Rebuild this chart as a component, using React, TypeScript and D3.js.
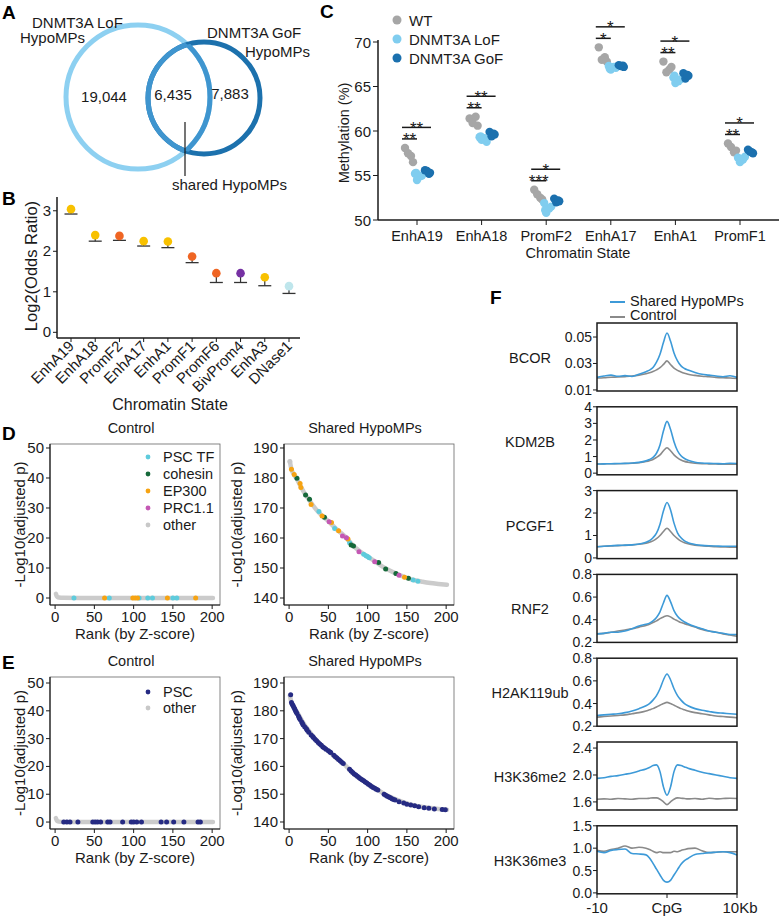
import React from "react";
import * as d3 from "d3";

const FONT = "'Liberation Sans', Arial, Helvetica, sans-serif";
const INK = "#1a1a1a";

// ---------- A: Venn of hypomethylated positions
const vennSetLoF = ["DNMT3A LoF", "HypoMPs"];
const vennSetGoF = ["DNMT3A GoF", "HypoMPs"];
const vennCounts = ["19,044", "6,435", "7,883"]; // LoF only, shared, GoF only
const vennShared = "shared HypoMPs";

// ---------- B: enrichment by chromatin state
const bStates = ["EnhA19", "EnhA18", "PromF2", "EnhA17", "EnhA1", "PromF1", "PromF6", "BivProm4", "EnhA3", "DNase1"];
const bLog2OR = [3.04, 2.4, 2.38, 2.25, 2.24, 1.87, 1.46, 1.46, 1.36, 1.14];
const bLowerCI = [2.92, 2.25, 2.27, 2.13, 2.09, 1.72, 1.23, 1.23, 1.15, 0.96];
const bGroup = ["EnhA", "EnhA", "PromF", "EnhA", "EnhA", "PromF", "PromF", "BivProm", "EnhA", "DNase"];
const bGroupColor: Record<string, string> = { EnhA: "#f8c100", PromF: "#ef6523", BivProm: "#7631a3", DNase: "#bfe6ec" };
const bYTicks = [0, 1, 2, 3];

// ---------- C: methylation per sample
const cStates = ["EnhA19", "EnhA18", "PromF2", "EnhA17", "EnhA1", "PromF1"];
const cWT = [
  [58.1, 57.2, 57.5, 56.5],
  [61.4, 61.6, 60.9, 60.6],
  [53.4, 52.5, 52.9, 52.3],
  [69.4, 68.3, 68.0, 67.8],
  [67.8, 66.9, 66.6, 67.2],
  [58.6, 57.6, 58.2, 57.8],
];
const cLoF = [
  [55.2, 54.9, 54.5, 55.0, 55.3],
  [59.3, 59.2, 59.0, 58.8, 59.4],
  [51.9, 51.3, 50.8, 51.5, 51.1],
  [67.3, 67.2, 66.9, 67.1, 67.0],
  [66.0, 65.6, 65.4, 65.8, 66.2],
  [57.0, 56.8, 56.5, 57.1, 56.9],
];
const cGoF = [
  [55.6, 55.3, 55.5, 55.2],
  [59.9, 59.6, 59.4, 59.7],
  [52.4, 52.1, 52.0, 52.2],
  [67.4, 67.2, 67.3, 67.35],
  [66.5, 66.2, 65.9, 66.3],
  [57.9, 57.5, 57.7, 57.6],
];
const cSigLoF = ["**", "**", "***", "*", "**", "**"];
const cSigGoF = ["**", "**", "*", "*", "*", "*"];
const cYTicks = [50, 55, 60, 65, 70];
const cGroups = ["WT", "DNMT3A LoF", "DNMT3A GoF"];
const cColors = ["#a6a6a6", "#80cdef", "#1b70ae"];

// ---------- D / E: motif enrichment rank plots
const rankTicks = [0, 50, 100, 150, 200];
const dClasses = ["PSC TF", "cohesin", "EP300", "PRC1.1", "other"];
const dColors = ["#5ecbdc", "#16693a", "#f6a312", "#c458b4", "#c8c8c8"];
const eClasses = ["PSC", "other"];
const eColors = ["#262b83", "#c8c8c8"];

const controlOther = [[1, 1.4], [2, 0.7], [3, 0.35], [5, 0.15], [10, 0.05], [50, 0.02], [100, 0.01], [150, 0], [201, 0]];
const sharedOther = [
  [1, 185.5], [3, 182.9], [6, 181.2], [10, 179.6], [14, 177.6], [20, 174.8], [25, 172.9], [30, 171.0],
  [40, 167.9], [50, 165.6], [60, 163.0], [70, 160.8], [80, 157.9], [90, 155.6], [100, 153.8], [110, 152.1],
  [120, 150.3], [130, 148.9], [140, 147.7], [150, 146.7], [160, 145.9], [170, 145.4], [180, 145.0], [190, 144.7], [201, 144.4],
];

const dControlPscTf = [[24, 0], [69, 0], [107, 0], [118, 0], [124, 0], [150, 0], [155, 0]];
const dControlEp300 = [[63, 0], [99, 0], [102, 0], [105, 0], [143, 0], [179, 0]];

const dSharedPscTf = [[38, 168.8], [58, 163.2], [77, 158.4], [95, 154.6], [98, 154.1], [100, 153.8], [102, 153.4], [158, 146.0], [164, 145.6]];
const dSharedCohesin = [[10, 179.9], [21, 174.3], [26, 172.9], [45, 166.9], [79, 157.7], [82, 157.3], [114, 151.8], [123, 149.7], [136, 148.2], [152, 146.6]];
const dSharedEp300 = [[3, 182.9], [6.5, 181.2], [14, 178.2], [15, 176.8], [28, 171.2], [42, 167.3], [54, 165.2], [63, 162.4], [75, 159.7], [147, 146.9]];
const dSharedPrc11 = [[51, 165.4], [68, 160.7], [73, 160.1], [89, 155.4], [109, 152.1], [140, 147.6]];

const eControlPsc = [[11, 0], [15, 0], [19, 0], [29, 0], [48, 0], [51, 0], [54, 0], [58, 0], [67, 0], [70, 0], [86, 0], [97, 0], [100, 0], [104, 0], [110, 0], [135, 0], [142, 0], [151, 0], [164, 0], [182, 0], [185, 0]];
const eSharedPsc = [
  [2, 185.8], [3, 183.0], [4, 182.4], [5, 181.9], [6, 181.3], [7, 180.7], [8, 180.1], [9, 179.6], [10, 179.0],
  [12, 178.0], [13, 177.4], [14, 176.9], [16, 176.0], [17, 175.4], [18, 174.9], [20, 174.2], [22, 173.5], [23, 173.0],
  [25, 172.3], [28, 171.3], [30, 170.8], [31, 170.4], [33, 169.8], [35, 169.2], [37, 168.6], [39, 168.1], [41, 167.6],
  [43, 167.0], [45, 166.6], [47, 166.2], [50, 165.6], [52, 165.2], [53, 165.0], [57, 164.0], [59, 163.5], [61, 163.0],
  [63, 162.5], [65, 162.0], [67, 161.5], [69, 161.0], [77, 159.0], [79, 158.3], [81, 157.8], [83, 157.3], [85, 156.9],
  [87, 156.5], [89, 156.0], [91, 155.6], [93, 155.2], [95, 154.8], [97, 154.4], [99, 154.0], [101, 153.6], [103, 153.2],
  [105, 152.8], [107, 152.4], [109, 152.1], [111, 151.8], [113, 151.5], [121, 150.0], [123, 149.6], [125, 149.3],
  [127, 149.0], [129, 148.7], [131, 148.4], [133, 148.1], [135, 147.9], [140, 147.3], [146, 146.8], [150, 146.4],
  [155, 146.1], [160, 145.8], [165, 145.5], [172, 145.1], [178, 144.9], [185, 144.7], [195, 144.5], [199, 144.4],
];

// ---------- F: profiles around CpG
const fPos = [-10, -9, -8, -7, -6, -5, -4, -3, -2.5, -2, -1.5, -1, -0.5, 0, 0.5, 1, 1.5, 2, 2.5, 3, 4, 5, 6, 7, 8, 9, 10];
const fTracks = ["BCOR", "KDM2B", "PCGF1", "RNF2", "H2AK119ub", "H3K36me2", "H3K36me3"];
const fShared = [
  [0.0195, 0.0205, 0.0212, 0.0203, 0.0208, 0.0202, 0.0218, 0.0238, 0.025, 0.027, 0.031, 0.037, 0.046, 0.053, 0.047, 0.038, 0.032, 0.0282, 0.0262, 0.025, 0.0232, 0.0218, 0.0212, 0.0205, 0.02, 0.0207, 0.0195],
  [0.55, 0.56, 0.57, 0.58, 0.59, 0.61, 0.65, 0.74, 0.82, 0.95, 1.2, 1.7, 2.55, 3.12, 2.65, 1.9, 1.35, 1.05, 0.88, 0.78, 0.66, 0.61, 0.59, 0.58, 0.57, 0.6, 0.58],
  [0.5, 0.52, 0.54, 0.56, 0.57, 0.58, 0.62, 0.7, 0.77, 0.9, 1.1, 1.5, 2.1, 2.47, 2.15, 1.55, 1.12, 0.9, 0.76, 0.68, 0.6, 0.56, 0.54, 0.53, 0.52, 0.52, 0.52],
  [0.275, 0.28, 0.29, 0.29, 0.3, 0.32, 0.345, 0.36, 0.37, 0.39, 0.42, 0.47, 0.55, 0.615, 0.56, 0.48, 0.43, 0.4, 0.38, 0.365, 0.34, 0.32, 0.3, 0.29, 0.28, 0.27, 0.27],
  [0.295, 0.3, 0.305, 0.31, 0.32, 0.335, 0.355, 0.38, 0.4, 0.43, 0.47, 0.53, 0.61, 0.66, 0.61, 0.53, 0.47, 0.43, 0.4, 0.38, 0.355, 0.34, 0.33, 0.32, 0.315, 0.31, 0.305],
  [1.95, 1.96, 1.98, 1.99, 2.01, 2.03, 2.06, 2.09, 2.11, 2.14, 2.15, 2.05, 1.82, 1.7, 1.82, 2.05, 2.15, 2.14, 2.12, 2.1, 2.07, 2.04, 2.02, 2.0, 1.98, 1.96, 1.95],
  [0.93, 0.9, 0.95, 0.97, 0.98, 0.88, 0.87, 0.85, 0.78, 0.66, 0.53, 0.4, 0.28, 0.24, 0.28, 0.4, 0.52, 0.64, 0.72, 0.77, 0.86, 0.88, 0.9, 0.91, 0.92, 0.9, 0.85],
];
const fControl = [
  [0.019, 0.0192, 0.0196, 0.0198, 0.0201, 0.0205, 0.0212, 0.0222, 0.023, 0.024, 0.0252, 0.0268, 0.0293, 0.032, 0.0292, 0.0265, 0.0248, 0.0236, 0.0226, 0.0218, 0.021, 0.0204, 0.02, 0.0195, 0.0192, 0.019, 0.0186],
  [0.55, 0.56, 0.57, 0.57, 0.58, 0.6, 0.63, 0.7, 0.75, 0.82, 0.95, 1.1, 1.35, 1.53, 1.35, 1.1, 0.92, 0.79, 0.71, 0.66, 0.6, 0.57, 0.56, 0.55, 0.54, 0.54, 0.54],
  [0.5, 0.52, 0.53, 0.55, 0.56, 0.58, 0.61, 0.66, 0.7, 0.76, 0.86, 1.0, 1.18, 1.32, 1.18, 1.0, 0.86, 0.75, 0.68, 0.63, 0.57, 0.54, 0.52, 0.5, 0.49, 0.48, 0.48],
  [0.275, 0.28, 0.29, 0.3, 0.31, 0.32, 0.335, 0.35, 0.36, 0.375, 0.39, 0.41, 0.425, 0.435, 0.425, 0.405, 0.39, 0.375, 0.365, 0.355, 0.335, 0.315, 0.3, 0.29, 0.275, 0.265, 0.255],
  [0.28, 0.285, 0.29, 0.295, 0.3, 0.31, 0.32, 0.335, 0.345, 0.355, 0.37, 0.385, 0.4, 0.41, 0.4, 0.385, 0.37, 0.355, 0.345, 0.335, 0.32, 0.31, 0.3, 0.29, 0.285, 0.28, 0.275],
  [1.64, 1.645, 1.64, 1.65, 1.645, 1.64, 1.65, 1.65, 1.655, 1.66, 1.66, 1.64, 1.6, 1.56, 1.6, 1.64, 1.66, 1.655, 1.65, 1.645, 1.65, 1.64, 1.655, 1.645, 1.65, 1.655, 1.65],
  [0.95, 0.93, 0.97, 1.0, 1.05, 1.0, 1.02, 1.0, 0.97, 0.93, 0.9, 0.92, 0.9, 0.9, 0.9, 0.93, 0.92, 0.95, 0.97, 0.99, 1.0, 0.94, 0.9, 0.91, 0.92, 0.92, 0.92],
];
const fDomains = [[0.0092, 0.0606], [-0.1, 4.0], [-0.03, 3.0], [0.2, 0.8], [0.2, 0.8], [1.48, 2.49], [-0.02, 1.5]];
const fTicks = [[0.01, 0.03, 0.05], [0, 1, 2, 3, 4], [0, 1, 2, 3], [0.2, 0.4, 0.6, 0.8], [0.2, 0.4, 0.6, 0.8], [1.6, 2.0, 2.4], [0, 0.5, 1.0, 1.5]];
const fTickFmt = [".2f", "d", "d", ".1f", ".1f", ".1f", ".1f"];
const fXTicks = [-10, 0, 10];
const fXLabels = ["-10", "CpG", "10Kb"];
const fSeries = ["Shared HypoMPs", "Control"];
const fColors = ["#3d9ad8", "#8a8a8a"];

function Letter({ x, y, t }: { x: number; y: number; t: string }) {
  return <text x={x} y={y} fontSize={19} fontWeight="bold" fill="#000">{t}</text>;
}

function PanelA() {
  const light = "#8dd0f1", dark = "#1c71ad", mid = "#3f95cf";
  const L = { cx: 138, cy: 97, r: 72 };
  const G = { cx: 204, cy: 98, r: 56 };
  return (
    <g fontSize={15} fill={INK}>
      <Letter x={2} y={19} t="A" />
      <defs>
        <clipPath id="clipG"><circle cx={G.cx} cy={G.cy} r={G.r} /></clipPath>
        <clipPath id="clipL"><circle cx={L.cx} cy={L.cy} r={L.r} /></clipPath>
      </defs>
      <circle cx={L.cx} cy={L.cy} r={L.r} fill="none" stroke={light} strokeWidth={5} />
      <circle cx={G.cx} cy={G.cy} r={G.r} fill="none" stroke={dark} strokeWidth={5} />
      <circle cx={L.cx} cy={L.cy} r={L.r} fill="none" stroke={mid} strokeWidth={5} clipPath="url(#clipG)" />
      <circle cx={G.cx} cy={G.cy} r={G.r} fill="none" stroke={mid} strokeWidth={5} clipPath="url(#clipL)" />
      <text x={32} y={28}>{vennSetLoF[0]}</text>
      <text x={20} y={43}>{vennSetLoF[1]}</text>
      <text x={207} y={38}>{vennSetGoF[0]}</text>
      <text x={245} y={57}>{vennSetGoF[1]}</text>
      <text x={104} y={102} textAnchor="middle">{vennCounts[0]}</text>
      <text x={173} y={100} textAnchor="middle">{vennCounts[1]}</text>
      <text x={230} y={99} textAnchor="middle">{vennCounts[2]}</text>
      <line x1={185} x2={185} y1={122} y2={176} stroke={INK} strokeWidth={1.2} />
      <text x={172} y={190}>{vennShared}</text>
    </g>
  );
}

function PanelB() {
  const x = d3.scalePoint<string>().domain(bStates).range([71, 289]);
  const y = d3.scaleLinear().domain([-0.14, 3.34]).range([338, 197]);
  return (
    <g fill={INK}>
      <Letter x={2} y={205} t="B" />
      {bStates.map((s, i) => {
        const cx = x(s)!;
        return (
          <g key={s}>
            <line x1={cx} x2={cx} y1={y(bLowerCI[i])} y2={y(bLog2OR[i])} stroke="#333" strokeWidth={1.2} />
            <line x1={cx - 6.5} x2={cx + 6.5} y1={y(bLowerCI[i])} y2={y(bLowerCI[i])} stroke="#333" strokeWidth={1.3} />
            <circle cx={cx} cy={y(bLog2OR[i])} r={4.3} fill={bGroupColor[bGroup[i]]} />
          </g>
        );
      })}
      <line x1={57} x2={57} y1={197} y2={338} stroke={INK} strokeWidth={1.5} />
      <line x1={57} x2={300} y1={338} y2={338} stroke={INK} strokeWidth={1.5} />
      {bYTicks.map((t) => (
        <g key={t}>
          <line x1={53} x2={57} y1={y(t)} y2={y(t)} stroke={INK} />
          <text x={51} y={y(t) + 5} fontSize={15} textAnchor="end">{t}</text>
        </g>
      ))}
      {bStates.map((s) => {
        const cx = x(s)!;
        return (
          <g key={s}>
            <line x1={cx} x2={cx} y1={338} y2={342} stroke={INK} />
            <text transform={`translate(${cx + 4},${347}) rotate(-45)`} fontSize={15} textAnchor="end">{s}</text>
          </g>
        );
      })}
      <text transform="translate(37,266) rotate(-90)" fontSize={16.5} textAnchor="middle">Log2(Odds Ratio)</text>
      <text x={170} y={410} fontSize={16} textAnchor="middle">Chromatin State</text>
    </g>
  );
}

function PanelC() {
  const x = d3.scalePoint<string>().domain(cStates).range([417, 740]);
  const y = d3.scaleLinear().domain([50, 70]).range([220, 42]);
  const jit = [[-12, -6, -9, -4], [-2, 3, 0, 5, -1], [8, 13, 10, 12]];
  const sets = [cWT, cLoF, cGoF];
  return (
    <g fill={INK}>
      <Letter x={320} y={18} t="C" />
      {cGroups.map((g, k) => (
        <g key={g}>
          <circle cx={397} cy={20 + k * 19} r={4.5} fill={cColors[k]} />
          <text x={409} y={25.5 + k * 19} fontSize={15}>{g}</text>
        </g>
      ))}
      {cStates.map((s, i) => {
        const cx = x(s)!;
        const low = y(d3.max(cWT[i])!) - 9;
        const high = low - 11.5;
        return (
          <g key={s}>
            {sets.map((set, k) =>
              set[i].map((v, j) => (
                <circle key={k + "-" + j} cx={cx + jit[k][j % jit[k].length]} cy={y(v)} r={4.2} fill={cColors[k]} />
              ))
            )}
            <line x1={cx - 15} x2={cx} y1={low} y2={low} stroke={INK} strokeWidth={1.5} />
            <line x1={cx - 15} x2={cx + 14} y1={high} y2={high} stroke={INK} strokeWidth={1.5} />
            <text x={cx - 7.5} y={low + 6.5} fontSize={17} textAnchor="middle">{cSigLoF[i]}</text>
            <text x={cx - 0.5} y={high + 6.5} fontSize={17} textAnchor="middle">{cSigGoF[i]}</text>
          </g>
        );
      })}
      <line x1={378} x2={378} y1={40} y2={220} stroke={INK} strokeWidth={1.5} />
      <line x1={378} x2={779} y1={220} y2={220} stroke={INK} strokeWidth={1.5} />
      {cYTicks.map((t) => (
        <g key={t}>
          <line x1={373} x2={378} y1={y(t)} y2={y(t)} stroke={INK} />
          <text x={371} y={y(t) + 5.5} fontSize={15} textAnchor="end">{t}</text>
        </g>
      ))}
      {cStates.map((s) => (
        <g key={s}>
          <line x1={x(s)!} x2={x(s)!} y1={220} y2={225} stroke={INK} />
          <text x={x(s)!} y={241} fontSize={14.5} textAnchor="middle">{s}</text>
        </g>
      ))}
      <text transform="translate(349,133) rotate(-90)" fontSize={14.5} textAnchor="middle">Methylation (%)</text>
      <text x={578} y={258} fontSize={14.5} textAnchor="middle">Chromatin State</text>
    </g>
  );
}

type Series = { color: string; pts: number[][] };

function RankPanel(props: {
  left: number; top: number; height: number; yDomain: number[]; yTicks: number[]; titleGap: number;
  title: string; curve: number[][]; series: Series[];
  legend?: { names: string[]; colors: string[]; top: number; step: number };
}) {
  const { left, top, height, yDomain, yTicks, titleGap, title, curve, series, legend } = props;
  const width = 170;
  const x = d3.scaleLinear().domain([-6.5, 210]).range([left, left + width]);
  const y = d3.scaleLinear().domain(yDomain).range([top + height, top]);
  const line = d3.line<number[]>().x((d) => x(d[0])).y((d) => y(d[1])).curve(d3.curveMonotoneX);
  const bottom = top + height;
  return (
    <g fill={INK}>
      <text x={left + width / 2 - 4} y={top - 11} fontSize={14.5} textAnchor="middle">{title}</text>
      <rect x={left} y={top} width={width} height={height} fill="none" stroke="#666" strokeWidth={0.8} />
      <path d={line(curve)!} fill="none" stroke="#cbcbcb" strokeWidth={4.5} strokeLinecap="round" />
      {series.map((s, k) =>
        s.pts.map((p, j) => <circle key={k + "-" + j} cx={x(p[0])} cy={y(p[1])} r={2.5} fill={s.color} />)
      )}
      <line x1={left} x2={left} y1={top} y2={bottom} stroke={INK} strokeWidth={1.2} />
      <line x1={left} x2={left + width} y1={bottom} y2={bottom} stroke={INK} strokeWidth={1.2} />
      {yTicks.map((t) => (
        <g key={t}>
          <line x1={left - 4} x2={left} y1={y(t)} y2={y(t)} stroke={INK} />
          <text x={left - 6} y={y(t) + 5} fontSize={15} textAnchor="end">{t}</text>
        </g>
      ))}
      {rankTicks.map((t) => (
        <g key={t}>
          <line x1={x(t)} x2={x(t)} y1={bottom} y2={bottom + 4} stroke={INK} />
          <text x={x(t)} y={bottom + 17} fontSize={15} textAnchor="middle">{t}</text>
        </g>
      ))}
      <text transform={`translate(${left - titleGap},${top + height / 2}) rotate(-90)`} fontSize={15} textAnchor="middle">-Log10(adjusted p)</text>
      <text x={left + width / 2} y={bottom + 34} fontSize={15} textAnchor="middle">Rank (by Z-score)</text>
      {legend &&
        legend.names.map((n, k) => (
          <g key={n}>
            <circle cx={left + 98} cy={legend.top + k * legend.step} r={2.4} fill={legend.colors[k]} />
            <text x={left + 113} y={legend.top + k * legend.step + 5} fontSize={14.5}>{n}</text>
          </g>
        ))}
    </g>
  );
}

function PanelD() {
  return (
    <g>
      <Letter x={2} y={440} t="D" />
      <RankPanel left={50} top={444} height={161} yDomain={[-2.33, 51.33]} yTicks={[0, 10, 20, 30, 40, 50]} titleGap={25}
        title="Control" curve={controlOther}
        series={[{ color: dColors[0], pts: dControlPscTf }, { color: dColors[2], pts: dControlEp300 }]}
        legend={{ names: dClasses, colors: dColors, top: 457, step: 17 }} />
      <RankPanel left={284} top={444} height={161} yDomain={[137.67, 191.33]} yTicks={[140, 150, 160, 170, 180, 190]} titleGap={42}
        title="Shared HypoMPs" curve={sharedOther}
        series={[
          { color: dColors[4], pts: [sharedOther[0]] },
          { color: dColors[0], pts: dSharedPscTf },
          { color: dColors[1], pts: dSharedCohesin },
          { color: dColors[2], pts: dSharedEp300 },
          { color: dColors[3], pts: dSharedPrc11 },
        ]} />
    </g>
  );
}

function PanelE() {
  return (
    <g>
      <Letter x={2} y={669} t="E" />
      <RankPanel left={50} top={677} height={152} yDomain={[-2.5, 52.16]} yTicks={[0, 10, 20, 30, 40, 50]} titleGap={25}
        title="Control" curve={controlOther}
        series={[{ color: eColors[0], pts: eControlPsc }]}
        legend={{ names: eClasses, colors: eColors, top: 692, step: 16 }} />
      <RankPanel left={284} top={677} height={152} yDomain={[137.48, 192.16]} yTicks={[140, 150, 160, 170, 180, 190]} titleGap={42}
        title="Shared HypoMPs" curve={sharedOther}
        series={[{ color: eColors[0], pts: eSharedPsc }]} />
    </g>
  );
}

function PanelF() {
  const x = d3.scaleLinear().domain([-10, 10]).range([597, 737]);
  const h = 68;
  const step = 83.8;
  return (
    <g fill={INK}>
      <Letter x={490} y={304} t="F" />
      {fSeries.map((s, k) => (
        <g key={s}>
          <line x1={610} x2={625} y1={302 + k * 15} y2={302 + k * 15} stroke={fColors[k]} strokeWidth={2} />
          <text x={630} y={306 + k * 14} fontSize={14.5}>{s}</text>
        </g>
      ))}
      {fTracks.map((name, i) => {
        const top = 323 + i * step;
        const y = d3.scaleLinear().domain(fDomains[i]).range([top + h, top]);
        const line = d3.line<number>().x((_, j) => x(fPos[j])).y((d) => y(d)).curve(d3.curveMonotoneX);
        const fmt = d3.format(fTickFmt[i]);
        return (
          <g key={name}>
            <path d={line(fControl[i])!} fill="none" stroke={fColors[1]} strokeWidth={1.6} />
            <path d={line(fShared[i])!} fill="none" stroke={fColors[0]} strokeWidth={1.6} />
            <rect x={597} y={top} width={140} height={h} fill="none" stroke={INK} strokeWidth={1.5} />
            {fTicks[i].map((t) => (
              <g key={t}>
                <line x1={593} x2={597} y1={y(t)} y2={y(t)} stroke={INK} />
                <text x={592} y={y(t) + 5} fontSize={14} textAnchor="end">{fmt(t)}</text>
              </g>
            ))}
            <text x={530} y={top + h / 2 + 6} fontSize={14.5} textAnchor="middle">{name}</text>
          </g>
        );
      })}
      {fXTicks.map((t, k) => (
        <g key={t}>
          <line x1={x(t)} x2={x(t)} y1={894} y2={898} stroke={INK} />
          <text x={x(t) + (k === 2 ? 3 : 0)} y={913} fontSize={15} textAnchor="middle">{fXLabels[k]}</text>
        </g>
      ))}
    </g>
  );
}

export default function App() {
  return (
    <svg width={779} height={918} fontFamily={FONT} style={{ position: "absolute", left: 0, top: 0, background: "#fff" }}>
      <PanelA />
      <PanelB />
      <PanelC />
      <PanelD />
      <PanelE />
      <PanelF />
    </svg>
  );
}
